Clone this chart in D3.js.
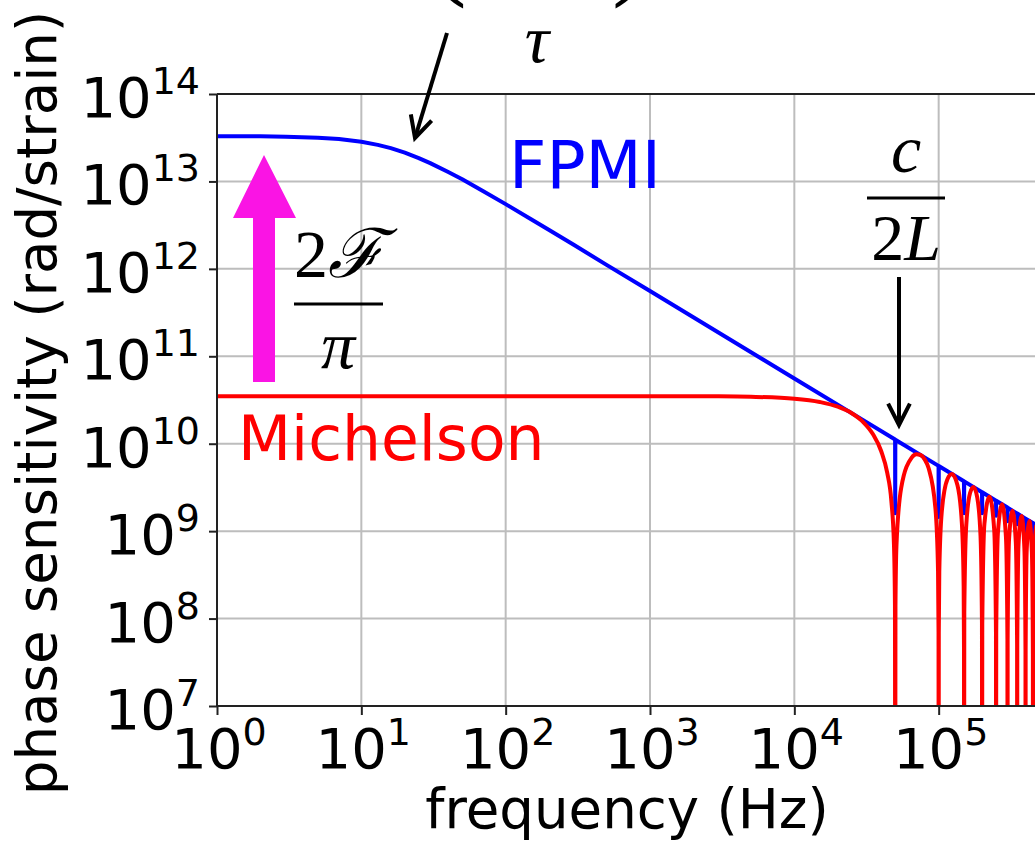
<!DOCTYPE html>
<html>
<head>
<meta charset="utf-8">
<script src="https://cdn.jsdelivr.net/npm/d3@7/dist/d3.min.js"></script>
<style>
  body { margin: 0; background: #fff; overflow: hidden; }
  svg { display: block; }
  text { font-family: "DejaVu Sans", sans-serif; fill: #000; }
  .math { font-family: "Liberation Serif", "DejaVu Serif", serif; }
</style>
</head>
<body>
<div id="chart"></div>
<script>
// decade exponents for the tick labels
var xExps = [0, 1, 2, 3, 4, 5];
var yExps = [7, 8, 9, 10, 11, 12, 13, 14];

// FPMI (blue): [frequency Hz, rad/strain]
var fpmi = [
  [1, 3.29e13], [2, 3.28e13], [3, 3.25e13], [5, 3.16e13], [7, 3.05e13],
  [10, 2.84e13], [13, 2.62e13], [16, 2.40e13], [20, 2.13e13], [25, 1.85e13],
  [30, 1.62e13], [40, 1.28e13], [50, 1.06e13], [70, 7.74e12], [100, 5.5e12],
  [150, 3.69e12], [200, 2.78e12], [300, 1.86e12], [500, 1.11e12], [1000, 5.58e11],
  [10000, 5.57e10], [30000, 1.86e10],
  [49900, 1.116e10], [50000, 1.6e9], [50100, 1.112e10],
  [99800, 5.58e9], [100000, 1.45e9], [100200, 5.56e9],
  [149700, 3.72e9], [150000, 1.6e9], [150300, 3.71e9],
  [199700, 2.79e9], [200000, 1.6e9], [200300, 2.78e9],
  [249700, 2.23e9], [250000, 1.5e9], [250300, 2.23e9],
  [299700, 1.86e9], [300000, 1.3e9], [300300, 1.85e9],
  [349700, 1.59e9], [350000, 1.2e9], [350300, 1.59e9],
  [399700, 1.39e9], [400000, 1.0e9], [400300, 1.39e9],
  [449700, 1.24e9], [450000, 0.9e9], [450300, 1.24e9],
  [500000, 1.11e9]
];

// Michelson (red): [frequency Hz, rad/strain]
var michelson = [
  [1, 3.5e10], [100, 3.5e10], [1000, 3.5e10], [3000, 3.48e10], [5000, 3.44e10],
  [10000, 3.27e10], [15000, 3.0e10], [20000, 2.65e10], [25000, 2.23e10],
  [30000, 1.77e10], [35000, 1.29e10], [40000, 8.2e9], [44000, 4.66e9],
  [47000, 2.22e9], [49000, 7.1e8], [49800, 1.4e8], [50000, 1e5],
  [50200, 1.4e8], [51000, 6.86e8], [55000, 3.13e9], [65000, 6.93e9],
  [70000, 7.57e9], [75000, 7.43e9], [80000, 6.62e9], [85000, 5.30e9],
  [95000, 1.81e9], [99000, 3.53e8], [99800, 7.0e7], [100000, 1e5],
  [100200, 7.0e7], [101000, 3.46e8], [105000, 1.64e9], [115000, 3.92e9],
  [123500, 4.49e9], [135000, 3.34e9], [145000, 1.19e9], [149000, 2.35e8],
  [149800, 4.7e7], [150000, 1e5],
  [150500, 1.16e8], [155000, 1.11e9], [165000, 2.73e9], [174000, 3.20e9],
  [185000, 2.44e9], [195000, 8.8e8], [199500, 8.8e7], [200000, 1e5],
  [200500, 8.7e7], [207500, 1.22e9], [225000, 2.48e9], [242500, 1.04e9],
  [249500, 7.0e7], [250000, 1e5],
  [250500, 7.0e7], [257500, 9.8e8], [275000, 2.03e9], [292500, 8.6e8],
  [299500, 5.8e7], [300000, 1e5],
  [300500, 5.8e7], [307500, 8.2e8], [325000, 1.71e9], [342500, 7.4e8],
  [349500, 5.0e7], [350000, 1e5],
  [350500, 5.0e7], [357500, 7.1e8], [375000, 1.49e9], [392500, 6.4e8],
  [399500, 4.4e7], [400000, 1e5],
  [400500, 4.4e7], [407500, 6.2e8], [425000, 1.31e9], [442500, 5.7e8],
  [449500, 3.9e7], [450000, 1e5],
  [450500, 3.9e7], [457500, 5.6e8], [475000, 1.17e9]
];

var w = 1035, h = 841;
var pLeft = 217, pTop = 94, pBottom = 706, pRight = 1083;

var svg = d3.select("#chart").append("svg")
  .attr("width", w)
  .attr("height", h);

var x = d3.scaleLog().domain([1, 1e6]).range([pLeft, pRight]);
var y = d3.scaleLog().domain([1e7, 1e14]).range([pBottom, pTop]);

svg.append("clipPath").attr("id", "plot")
  .append("rect")
  .attr("x", pLeft).attr("y", pTop)
  .attr("width", pRight - pLeft).attr("height", pBottom - pTop);

// grid
var grid = svg.append("g").attr("stroke", "#bdbdbd").attr("stroke-width", 2);
grid.selectAll(".gx").data(xExps.slice(1)).enter().append("line")
  .attr("x1", function(e) { return x(Math.pow(10, e)); })
  .attr("x2", function(e) { return x(Math.pow(10, e)); })
  .attr("y1", pTop).attr("y2", pBottom);
grid.selectAll(".gy").data(yExps.slice(1, -1)).enter().append("line")
  .attr("y1", function(e) { return y(Math.pow(10, e)); })
  .attr("y2", function(e) { return y(Math.pow(10, e)); })
  .attr("x1", pLeft).attr("x2", pRight);

// curves
var line = d3.line()
  .x(function(d) { return x(d[0]); })
  .y(function(d) { return y(d[1]); });

var curves = svg.append("g").attr("clip-path", "url(#plot)");
curves.append("path")
  .attr("d", line.curve(d3.curveLinear)(fpmi))
  .attr("fill", "none").attr("stroke", "#0000ff").attr("stroke-width", 4)
  .attr("stroke-linejoin", "round");
curves.append("path")
  .attr("d", line.curve(d3.curveMonotoneX)(michelson))
  .attr("fill", "none").attr("stroke", "#ff0000").attr("stroke-width", 4)
  .attr("stroke-linejoin", "round");

// axes ticks (labels added by hand for the superscripts)
svg.append("g")
  .attr("transform", "translate(0," + pBottom + ")")
  .call(d3.axisBottom(x).tickValues(xExps.map(function(e) { return Math.pow(10, e); }))
    .tickSize(9).tickFormat(""));
svg.append("g")
  .attr("transform", "translate(" + pLeft + ",0)")
  .call(d3.axisLeft(y).tickValues(yExps.map(function(e) { return Math.pow(10, e); }))
    .tickSize(8).tickFormat(""));
svg.selectAll(".domain").remove();
svg.selectAll(".tick line").attr("stroke", "#222").attr("stroke-width", 2);

// spines
svg.append("line").attr("x1", pLeft).attr("x2", w).attr("y1", pTop).attr("y2", pTop)
  .attr("stroke", "#222").attr("stroke-width", 2);
svg.append("line").attr("x1", pLeft).attr("x2", w).attr("y1", pBottom).attr("y2", pBottom)
  .attr("stroke", "#222").attr("stroke-width", 2);
svg.append("line").attr("x1", pLeft).attr("x2", pLeft).attr("y1", pTop).attr("y2", pBottom)
  .attr("stroke", "#222").attr("stroke-width", 2);

function powLabel(t, e) {
  t.append("tspan").text("10");
  t.append("tspan").attr("dy", -23).attr("font-size", 38).text(e);
}

xExps.forEach(function(e) {
  var t = svg.append("text")
    .attr("x", x(Math.pow(10, e)) + 2).attr("y", 768)
    .attr("text-anchor", "middle").attr("font-size", 56);
  powLabel(t, e);
});
yExps.forEach(function(e) {
  var t = svg.append("text")
    .attr("x", 200).attr("y", y(Math.pow(10, e)) + 23)
    .attr("text-anchor", "end").attr("font-size", 56);
  powLabel(t, e);
});

// axis titles
svg.append("text")
  .attr("x", 627).attr("y", 828)
  .attr("text-anchor", "middle").attr("font-size", 54.6)
  .text("frequency (Hz)");
svg.append("text")
  .attr("transform", "translate(56,403) rotate(-90)")
  .attr("text-anchor", "middle").attr("font-size", 54.6)
  .text("phase sensitivity (rad/strain)");

// curve labels
svg.append("text").attr("x", 509).attr("y", 188).attr("font-size", 65)
  .style("fill", "#0000ff").text("FPMI");
svg.append("text").attr("x", 238).attr("y", 460).attr("font-size", 61.5)
  .style("fill", "#ff0000").text("Michelson");

// magenta arrow (2F/pi gain)
svg.append("path")
  .attr("d", "M253,382 L253,218 L233,218 L264,155 L296,218 L275,218 L275,382 Z")
  .attr("fill", "#fa14e4");

// black arrows
function arrow(x1, y1, x2, y2) {
  var a = Math.atan2(y2 - y1, x2 - x1), L = 24, s = 0.47;
  var g = svg.append("g").attr("stroke", "#000").attr("stroke-width", 4)
    .attr("fill", "none").attr("stroke-linecap", "butt");
  g.append("line").attr("x1", x1).attr("y1", y1).attr("x2", x2).attr("y2", y2);
  g.append("polyline").attr("points", [
    [x2 - L * Math.cos(a - s), y2 - L * Math.sin(a - s)],
    [x2, y2],
    [x2 - L * Math.cos(a + s), y2 - L * Math.sin(a + s)]
  ].map(function(p) { return p.join(","); }).join(" "));
}
arrow(447, 33, 415, 138);
arrow(899, 277, 899, 425);

// math annotations (top one is cut by the picture edge)
svg.append("text").attr("class", "math").attr("x", 430).attr("y", -15)
  .attr("font-size", 110).text("(");
svg.append("text").attr("class", "math").attr("x", 612).attr("y", -15)
  .attr("font-size", 110).text(")");
svg.append("text").attr("class", "math").attr("x", 537).attr("y", 62)
  .attr("text-anchor", "middle").attr("font-size", 68).attr("font-style", "italic").text("τ");

var fr = svg.append("text").attr("class", "math").attr("x", 339).attr("y", 277)
  .attr("text-anchor", "middle").attr("font-size", 68);
fr.append("tspan").text("2");
fr.append("tspan").attr("font-style", "italic").text("ℱ");
svg.append("line").attr("x1", 294).attr("x2", 383).attr("y1", 304).attr("y2", 304)
  .attr("stroke", "#000").attr("stroke-width", 3);
svg.append("text").attr("class", "math").attr("x", 338).attr("y", 368)
  .attr("text-anchor", "middle").attr("font-size", 68).attr("font-style", "italic").text("π");

svg.append("text").attr("class", "math").attr("x", 906).attr("y", 172)
  .attr("text-anchor", "middle").attr("font-size", 68).attr("font-style", "italic").text("c");
svg.append("line").attr("x1", 867).attr("x2", 945).attr("y1", 198).attr("y2", 198)
  .attr("stroke", "#000").attr("stroke-width", 3);
var cl = svg.append("text").attr("class", "math").attr("x", 906).attr("y", 260)
  .attr("text-anchor", "middle").attr("font-size", 66);
cl.append("tspan").text("2");
cl.append("tspan").attr("font-style", "italic").text("L");
</script>
</body>
</html>
